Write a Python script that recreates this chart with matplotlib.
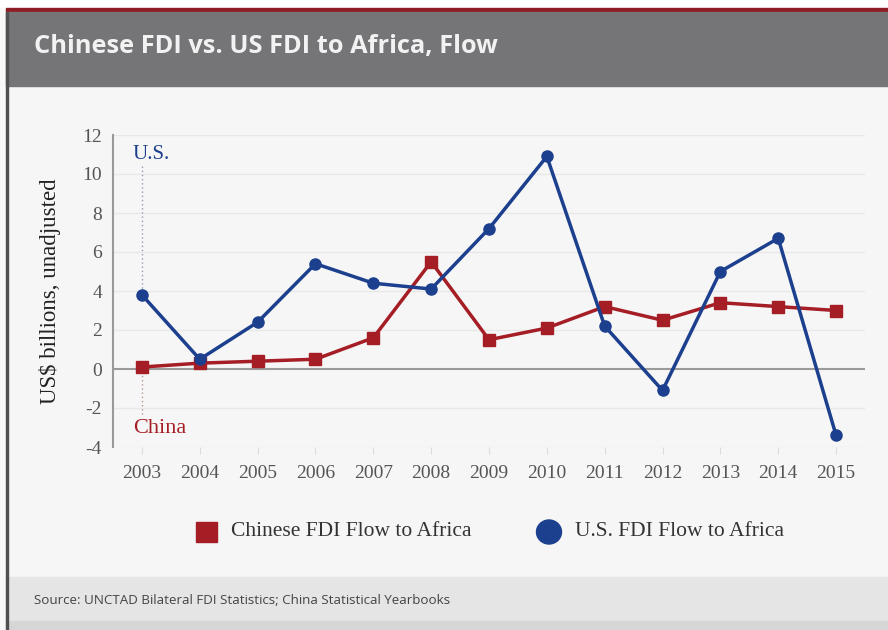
import matplotlib.pyplot as plt
import matplotlib.patches as mpatches

plt.rcParams['axes.unicode_minus'] = False

# data (US$ billions)
years = [2003, 2004, 2005, 2006, 2007, 2008, 2009, 2010, 2011, 2012, 2013, 2014, 2015]
china_fdi = [0.1, 0.3, 0.4, 0.5, 1.6, 5.5, 1.5, 2.1, 3.2, 2.5, 3.4, 3.2, 3.0]
us_fdi = [3.8, 0.5, 2.4, 5.4, 4.4, 4.1, 7.2, 10.9, 2.2, -1.1, 5.0, 6.7, -3.4]
yticks = [-4, -2, 0, 2, 4, 6, 8, 10, 12]
series_names = ['Chinese FDI Flow to Africa', 'U.S. FDI Flow to Africa']

red = '#a51d25'
blue = '#1c3f8e'
serif = 'Liberation Serif'

fig = plt.figure(figsize=(8.88, 6.3), dpi=100)
fig.patch.set_facecolor('#f6f6f6')

# header band, red line, footer bands (pixel coords from the top)
W, H = 888.0, 630.0
def box(x0, y0, x1, y1, color, z=0):
    fig.patches.append(mpatches.Rectangle((x0 / W, 1 - y1 / H), (x1 - x0) / W, (y1 - y0) / H,
                                          transform=fig.transFigure, color=color, zorder=z))
box(0, 0, 888, 8, 'white')
box(0, 8, 6, 630, '#f8f8f8')
box(6, 8, 888, 12, '#8e1c24')
box(6, 12, 888, 86, '#757578')
box(6, 577, 888, 621, '#e5e5e5')
box(6, 621, 888, 630, '#d6d6d6')
box(6, 12, 8, 630, '#505050', 1)

fig.text(34 / W, 1 - 47 / H, 'Chinese FDI vs. US FDI to Africa, Flow', color='#f2f2f2',
         fontsize=18.3, fontweight='bold', family='Open Sans', va='center', ha='left')
fig.text(34 / W, 1 - 600 / H, 'Source: UNCTAD Bilateral FDI Statistics; China Statistical Yearbooks',
         color='#444444', fontsize=9.6, family='Open Sans', va='center', ha='left')

ax = fig.add_axes([113 / W, 1 - 447 / H, (865 - 113) / W, (447 - 135) / H])
ax.set_facecolor('#f6f6f6')
ax.set_xlim(2002.5, 2015.5)
ax.set_ylim(-4, 12)

for v in yticks:
    if v != 0:
        ax.axhline(v, color='#e8e8e8', lw=1, zorder=1)
ax.axhline(0, color='#9a9a9a', lw=1.5, zorder=2)

ax.plot(years, china_fdi, color=red, lw=2.5, marker='s', ms=8, zorder=4)
ax.plot(years, us_fdi, color=blue, lw=2.5, marker='o', ms=8, zorder=5)

# dotted pointer lines and series labels
ax.plot([years[0], years[0]], [10.4, us_fdi[0]], color='#9a9ab8', ls=(0, (1, 2)), lw=1, zorder=3)
ax.plot([years[0], years[0]], [china_fdi[0], -2.4], color='#c09090', ls=(0, (1, 2)), lw=1, zorder=3)
ax.text(2002.84, 11.0, 'U.S.', color=blue, fontsize=15, family=serif, va='center', ha='left')
ax.text(2002.84, -3.05, 'China', color=red, fontsize=16, family=serif, va='center', ha='left')

ax.set_xticks(years)
ax.set_xticklabels([str(y) for y in years])
ax.set_yticks(yticks)
for s in ['top', 'right', 'bottom']:
    ax.spines[s].set_visible(False)
ax.spines['left'].set_color('#999999')
ax.spines['left'].set_linewidth(1.5)
ax.tick_params(axis='y', length=0, pad=8, labelsize=14, labelcolor='#555555')
ax.tick_params(axis='x', length=5, color='#dddddd', pad=8, labelsize=14, labelcolor='#555555')
for lab in ax.get_xticklabels() + ax.get_yticklabels():
    lab.set_family(serif)
ax.set_ylabel('US$ billions, unadjusted', fontsize=16.5, family=serif, color='#222222', labelpad=15)

# legend below the plot, placed by hand
ly = 1 - 532 / H
fig.patches.append(mpatches.Rectangle((196 / W, 1 - 542 / H), 21 / W, 20 / H,
                                      transform=fig.transFigure, color=red, zorder=2))
fig.patches.append(mpatches.Ellipse((549 / W, ly), 25 / W, 24 / H,
                                    transform=fig.transFigure, color=blue, zorder=2))
fig.text(231 / W, ly, series_names[0], fontsize=15.5, family=serif, color='#333333', va='center')
fig.text(575 / W, ly, series_names[1], fontsize=15.5, family=serif, color='#333333', va='center')

fig.savefig('out.png', dpi=100, facecolor=fig.get_facecolor())
